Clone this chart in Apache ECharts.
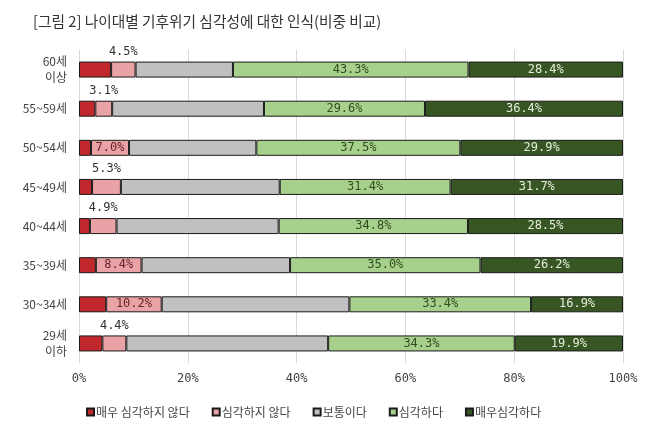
<!DOCTYPE html>
<html><head><meta charset="utf-8">
<script src="https://cdn.jsdelivr.net/npm/echarts@6/dist/echarts.min.js"></script>
<style>html,body{margin:0;padding:0;background:#fff}#c{width:658px;height:437px}</style>
</head><body><div id="c"></div>
<script>
const categories = ['60세\n이상','55~59세','50~54세','45~49세','40~44세','35~39세','30~34세','29세\n이하'];
const seriesNames = ['매우 심각하지 않다','심각하지 않다','보통이다','심각하다','매우심각하다'];
const veryNot = [5.9,3.0,2.2,2.4,2.0,3.1,5.0,4.3];
const notSerious = [4.5,3.1,7.0,5.3,4.9,8.4,10.2,4.4];
const neutral = [17.9,27.9,23.4,29.2,29.8,27.3,34.5,37.1];
const serious = [43.3,29.6,37.5,31.4,34.8,35.0,33.4,34.3];
const verySerious = [28.4,36.4,29.9,31.7,28.5,26.2,16.9,19.9];
const xTicks = [0,20,40,60,80,100];

const colors = ['#c0282d','#e9a2a5','#c0c0c0','#a8d08d','#375623'];
const mono = '"DejaVu Sans Mono", monospace';
const kr = '"Noto Sans CJK KR", sans-serif';
const fmt = p => p.value.toFixed(1) + '%';

function pinkData(){
  return notSerious.map(v => v < 6 ? {value:v, label:{show:true, position:'top', distance:4, color:'#333'}}
                                  : {value:v, label:{show:true, position:'inside', color:'#6a2528'}});
}
const common = {type:'bar', stack:'all', barWidth:16};
const border = {borderColor:'#1a1a1a', borderWidth:1};
const series = [
  Object.assign({}, common, {name:seriesNames[0], data:veryNot, itemStyle:Object.assign({color:colors[0]}, border)}),
  Object.assign({}, common, {name:seriesNames[1], data:pinkData(), itemStyle:Object.assign({color:colors[1]}, border),
    label:{fontFamily:mono, fontSize:12, formatter:fmt}}),
  Object.assign({}, common, {name:seriesNames[2], data:neutral, itemStyle:Object.assign({color:colors[2]}, border)}),
  Object.assign({}, common, {name:seriesNames[3], data:serious, itemStyle:Object.assign({color:colors[3]}, border),
    label:{show:true, position:'inside', fontFamily:mono, fontSize:12, color:'#2e4d1e', formatter:fmt}}),
  Object.assign({}, common, {name:seriesNames[4], data:verySerious, itemStyle:Object.assign({color:colors[4]}, border),
    label:{show:true, position:'inside', fontFamily:mono, fontSize:12, color:'#e6eedd', formatter:fmt}})
];

const chart = echarts.init(document.getElementById('c'), null, {renderer:'canvas'});
chart.setOption({
  animation:false,
  backgroundColor:'#fff',
  title:{text:'[그림 2] 나이대별 기후위기 심각성에 대한 인식(비중 비교)', left:28, top:9,
    textStyle:{fontFamily:kr, fontSize:14.7, fontWeight:'normal', color:'#333'}},
  legend:{data:seriesNames, left:81, top:401, icon:'rect', itemWidth:7, itemHeight:7, itemGap:22,
    textStyle:{fontFamily:kr, fontSize:12, color:'#444', padding:[0,0,0,-3]}},
  grid:{left:79, right:35, top:50, height:313},
  xAxis:{type:'value', min:xTicks[0], max:xTicks[xTicks.length-1], interval:20,
    axisLine:{show:false}, axisTick:{show:false},
    splitLine:{lineStyle:{color:'#d9d9d9'}},
    axisLabel:{formatter:'{value}%', fontFamily:mono, fontSize:12, color:'#444', margin:10}},
  yAxis:{type:'category', data:categories, inverse:true,
    axisLine:{show:false}, axisTick:{show:false},
    axisLabel:{fontFamily:kr, fontSize:12, color:'#444', margin:12, lineHeight:16, align:'right'}},
  series:series
});
</script></body></html>
